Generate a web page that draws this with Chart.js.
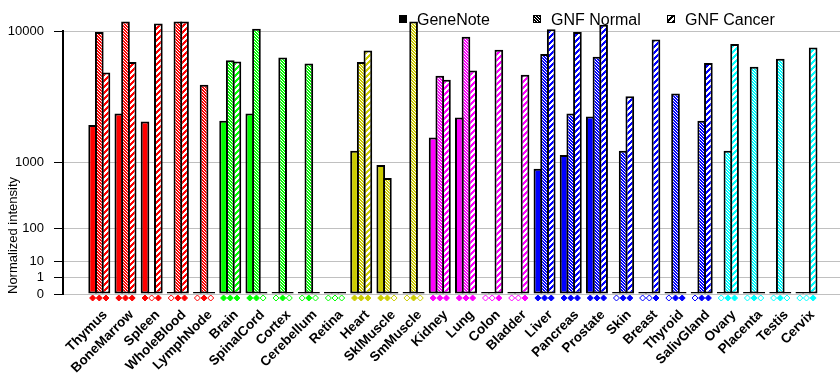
<!DOCTYPE html>
<html>
<head>
<meta charset="utf-8">
<script src="https://cdn.jsdelivr.net/npm/chart.js@4.4.1/dist/chart.umd.min.js"></script>
<style>
  html, body { margin: 0; padding: 0; background: #fff; }
  #wrap { width: 840px; height: 385px; }
</style>
</head>
<body>
<div id="wrap"><canvas id="tissueChart"></canvas></div>
<script>
const tissues = ["Thymus", "BoneMarrow", "Spleen", "WholeBlood", "LymphNode",
  "Brain", "SpinalCord", "Cortex", "Cerebellum", "Retina",
  "Heart", "SklMuscle", "SmMuscle",
  "Kidney", "Lung", "Colon", "Bladder",
  "Liver", "Pancreas", "Prostate", "Skin", "Breast", "Thyroid", "SalivGland",
  "Ovary", "Placenta", "Testis", "Cervix"];

const tissueSystem = ["immune", "immune", "immune", "immune", "immune",
  "neural", "neural", "neural", "neural", "neural",
  "muscle", "muscle", "muscle",
  "visceral", "visceral", "visceral", "visceral",
  "gland", "gland", "gland", "gland", "gland", "gland", "gland",
  "reproductive", "reproductive", "reproductive", "reproductive"];

const seriesNames = ["GeneNote", "GNF Normal", "GNF Cancer"];

const geneNote = [2300, 2870, 2460, 0, 0,
  2500, 2870, 0, 0, 0,
  1330, 940, 0,
  1780, 2660, 0, 0,
  850, 1200, 2710, 0, 0, 0, 0,
  0, 0, 0, 0];

const gnfNormal = [9880, 11250, 0, 11250, 4680,
  6750, 10300, 7030, 6460, 0,
  6590, 660, 11250,
  5380, 9290, 0, 0,
  7380, 2870, 7100, 1330, 0, 4060, 2500,
  1330, 6150, 6900, 0];

const gnfCancer = [5650, 6590, 10990, 11250, 0,
  6650, 0, 0, 0, 0,
  7740, 0, 0,
  5060, 5820, 7820, 5460,
  10230, 9880, 10810, 3870, 8980, 0, 6490,
  8450, 0, 0, 8070];

// filled diamond under a bar = expression called present
const geneNotePresent = [1, 1, 1, 0, 0, 1, 1, 0, 0, 0, 1, 1, 0, 1, 1, 0, 0, 1, 1, 1, 0, 0, 0, 0, 0, 0, 0, 0];
const gnfNormalPresent = [1, 1, 0, 1, 1, 1, 1, 1, 1, 0, 1, 1, 1, 1, 1, 0, 0, 1, 1, 1, 1, 0, 1, 1, 1, 1, 1, 0];
const gnfCancerPresent = [1, 1, 1, 1, 0, 1, 0, 0, 0, 0, 1, 0, 0, 1, 1, 1, 1, 1, 1, 1, 1, 1, 1, 1, 1, 0, 0, 1];

const tickValues = [0, 1, 10, 100, 1000, 10000];
const tickLabels = ["0", "1", "10", "100", "1000", "10000"];

const systemColors = {
  immune: "#ff0000",
  neural: "#00ff00",
  muscle: "#cccc00",
  visceral: "#ff00ff",
  gland: "#0000ff",
  reproductive: "#00ffff"
};

const FONT = "'Liberation Sans', Arial, sans-serif";

// the axis is a power scale: every decade takes twice the room of the one below
function toScale(v) {
  return v <= 0 ? 0 : Math.pow(2, Math.log10(v));
}

function makePattern(color, kind) {
  const size = kind === "normal" ? 3 : 6;
  const c = document.createElement("canvas");
  c.width = size;
  c.height = size;
  const g = c.getContext("2d");
  g.fillStyle = color;
  g.fillRect(0, 0, size, size);
  g.fillStyle = "#fff";
  for (let x = 0; x < size; x++) {
    for (let y = 0; y < size; y++) {
      if (kind === "normal" && x === y) g.fillRect(x, y, 1, 1);
      if (kind === "cancer" && (x + y) % 6 < 3) g.fillRect(x, y, 1, 1);
    }
  }
  return g.createPattern(c, "repeat");
}

function fillsFor(kind) {
  return tissues.map((t, i) => {
    const col = systemColors[tissueSystem[i]];
    return kind === "solid" ? col : makePattern(col, kind);
  });
}

const seriesValues = [geneNote, gnfNormal, gnfCancer];
const seriesPresent = [geneNotePresent, gnfNormalPresent, gnfCancerPresent];
const seriesKinds = ["solid", "normal", "cancer"];

const datasets = seriesNames.map((name, s) => ({
  label: name,
  data: seriesValues[s].map((v, i) => ({ x: i, y: toScale(v) })),
  backgroundColor: fillsFor(seriesKinds[s]),
  borderColor: "#000",
  borderWidth: 2,
  borderSkipped: false,
  minBarLength: 2,
  categoryPercentage: 0.764,
  barPercentage: 1.3,
  clip: false
}));

const markerPlugin = {
  id: "presenceMarks",
  afterDatasetsDraw(chart) {
    const ctx = chart.ctx;
    const y0 = chart.scales.y.getPixelForValue(0) + 4;
    ctx.save();
    ctx.lineWidth = 1;
    seriesPresent.forEach((flags, s) => {
      chart.getDatasetMeta(s).data.forEach((bar, i) => {
        const col = systemColors[tissueSystem[i]];
        const r = 3;
        ctx.beginPath();
        ctx.moveTo(bar.x, y0 - r);
        ctx.lineTo(bar.x + r, y0);
        ctx.lineTo(bar.x, y0 + r);
        ctx.lineTo(bar.x - r, y0);
        ctx.closePath();
        ctx.fillStyle = flags[i] ? col : "#fff";
        ctx.strokeStyle = col;
        ctx.fill();
        ctx.stroke();
      });
    });
    ctx.restore();
  }
};

const legendPlugin = {
  id: "boxLegend",
  afterDatasetsDraw(chart) {
    const ctx = chart.ctx;
    const startX = chart.chartArea.right - 441;
    const step = 134;
    const cy = 19;
    ctx.save();
    ctx.font = "16px " + FONT;
    ctx.textBaseline = "middle";
    ctx.textAlign = "left";
    seriesNames.forEach((name, s) => {
      const x = startX + s * step;
      ctx.fillStyle = seriesKinds[s] === "solid" ? "#000" : makePattern("#000", seriesKinds[s]);
      ctx.fillRect(x, cy - 4, 8, 8);
      if (seriesKinds[s] !== "solid") {
        ctx.strokeStyle = "#000";
        ctx.lineWidth = 1;
        ctx.strokeRect(x + 0.5, cy - 3.5, 7, 7);
      }
      ctx.fillStyle = "#000";
      ctx.fillText(name, x + 18, cy + 2);
    });
    ctx.restore();
  }
};

new Chart(document.getElementById("tissueChart"), {
  type: "bar",
  data: { datasets: datasets },
  options: {
    responsive: true,
    maintainAspectRatio: false,
    animation: false,
    layout: { padding: { top: 31, left: 0, right: 0, bottom: 0 } },
    plugins: {
      legend: { display: false },
      tooltip: { enabled: false }
    },
    scales: {
      x: {
        type: "linear",
        offset: false,
        min: -1.386,
        max: 28.28,
        afterBuildTicks: (axis) => {
          axis.ticks = tissues.map((t, i) => ({ value: i }));
        },
        afterFit: (axis) => {
          axis.height = 91;
          axis.paddingLeft = 0;
          axis.paddingRight = 0;
        },
        grid: { display: false, drawTicks: false, offset: false },
        border: { display: false },
        ticks: {
          autoSkip: false,
          minRotation: 45,
          maxRotation: 45,
          padding: 13,
          labelOffset: 6,
          color: "#000",
          font: { family: FONT, size: 13.5, weight: "bold" },
          callback: (v) => tissues[v]
        }
      },
      y: {
        type: "linear",
        min: 0,
        max: 16,
        afterBuildTicks: (axis) => {
          axis.ticks = tickValues.map(v => ({ value: toScale(v) }));
        },
        afterFit: (axis) => { axis.width = 63; },
        grid: { color: "#c0c0c0", lineWidth: 1, tickColor: "#000", tickLength: 9 },
        border: { display: true, color: "#000", width: 2 },
        ticks: {
          padding: 10,
          color: "#000",
          font: { family: FONT, size: 13 },
          callback: (v, idx) => tickLabels[idx]
        },
        title: {
          display: true,
          text: "Normalized intensity",
          align: "start",
          color: "#000",
          padding: { top: 6, bottom: 0 },
          font: { family: FONT, size: 13 }
        }
      }
    }
  },
  plugins: [markerPlugin, legendPlugin]
});
</script>
</body>
</html>
